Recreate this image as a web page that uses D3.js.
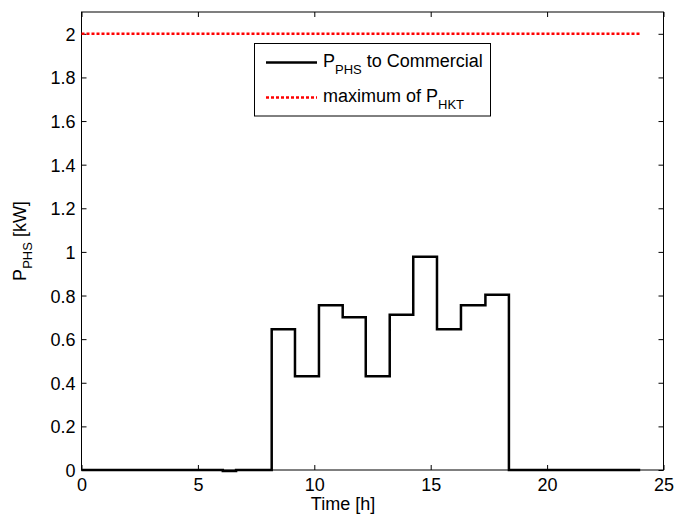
<!DOCTYPE html>
<html>
<head>
<meta charset="utf-8">
<script src="https://cdn.jsdelivr.net/npm/d3@7"></script>
<style>
  html, body { margin: 0; padding: 0; background: #fff; }
  svg { display: block; }
  text { font-family: "Liberation Sans", Arial, Helvetica, sans-serif; fill: #000; }
</style>
</head>
<body>
<svg id="chart" width="690" height="517"></svg>
<script>
// Step profile: start times (h) of each interval and the power held over it (kW)
const stepTimes  = [0, 6.07, 6.64, 8.17, 9.17, 10.20, 11.22, 12.21, 13.24, 14.25, 15.27, 16.30, 17.35, 18.36, 24];
const stepPower  = [0, -0.005, 0, 0.645, 0.430, 0.755, 0.700, 0.430, 0.712, 0.978, 0.645, 0.755, 0.804, 0, 0];
// Rated maximum of the turbine
const maxTimes = [0, 24];
const maxPower = [2, 2];

const xTicks = [0, 5, 10, 15, 20, 25];
const yTicks = [0, 0.2, 0.4, 0.6, 0.8, 1, 1.2, 1.4, 1.6, 1.8, 2];

const svg = d3.select("#chart");
const L = 81.5, R = 663.5, T = 12, B = 470;
const x = d3.scaleLinear().domain([0, 25]).range([L, R]);
const y = d3.scaleLinear().domain([0, 2.1]).range([B, T]);
const fs = 18;

// Inward ticks on all four sides
const tickLen = 5;
const axB = d3.axisBottom(x).tickValues(xTicks).tickSizeInner(-tickLen).tickSizeOuter(0).tickPadding(10)
  .tickFormat(d3.format("d"));
const axT = d3.axisTop(x).tickValues(xTicks).tickSizeInner(-tickLen).tickSizeOuter(0).tickFormat("");
const axL = d3.axisLeft(y).tickValues(yTicks).tickSizeInner(-tickLen).tickSizeOuter(0).tickPadding(10)
  .tickFormat(d => d === 0 || d === 1 || d === 2 ? String(d) : d3.format(".1f")(d));
const axR = d3.axisRight(y).tickValues(yTicks).tickSizeInner(-tickLen).tickSizeOuter(0).tickFormat("");

function styleAxis(g) {
  g.select(".domain").remove();
  g.selectAll(".tick line").attr("stroke", "#000").attr("stroke-width", 1);
  g.selectAll(".tick text").attr("font-size", fs).attr("font-family", "Liberation Sans, Arial, sans-serif").attr("fill", "#000");
}
svg.append("g").attr("transform", `translate(0,${B})`).call(axB).call(styleAxis)
  .selectAll(".tick text").attr("dy", null).attr("y", 21);
svg.append("g").attr("transform", `translate(0,${T})`).call(axT).call(styleAxis);
svg.append("g").attr("transform", `translate(${L},0)`).call(axL).call(styleAxis)
  .selectAll(".tick text").attr("x", -6).attr("dy", "0.36em");
svg.append("g").attr("transform", `translate(${R},0)`).call(axR).call(styleAxis);

// Plot box
svg.append("rect").attr("x", L).attr("y", T).attr("width", R - L).attr("height", B - T)
  .attr("fill", "none").attr("stroke", "#000").attr("stroke-width", 1);

// Maximum line (red dotted)
const maxData = maxTimes.map((t, i) => [t, maxPower[i]]);
svg.append("path").datum(maxData)
  .attr("d", d3.line().x(d => x(d[0])).y(d => y(d[1])))
  .attr("fill", "none").attr("stroke", "#ff0000").attr("stroke-width", 2.5)
  .attr("stroke-dasharray", "3,2");

// Power profile (stairs)
const stepData = stepTimes.map((t, i) => [t, stepPower[i]]);
svg.append("path").datum(stepData)
  .attr("d", d3.line().curve(d3.curveStepAfter).x(d => x(d[0])).y(d => y(d[1])))
  .attr("fill", "none").attr("stroke", "#000").attr("stroke-width", 2.5)
  .attr("stroke-linejoin", "miter");

// Axis labels
svg.append("text").attr("x", 343).attr("y", 510).attr("text-anchor", "middle")
  .attr("font-size", fs).text("Time [h]");

const yl = svg.append("text").attr("transform", "translate(26,241) rotate(-90)")
  .attr("text-anchor", "middle").attr("font-size", fs);
yl.append("tspan").text("P");
yl.append("tspan").attr("font-size", 13).attr("dy", 6).text("PHS");
yl.append("tspan").attr("dy", -6).text(" [kW]");

// Legend
const lg = svg.append("g");
lg.append("rect").attr("x", 254.5).attr("y", 43.5).attr("width", 236).attr("height", 72.5)
  .attr("fill", "#fff").attr("stroke", "#000").attr("stroke-width", 1);
lg.append("line").attr("x1", 266).attr("x2", 317).attr("y1", 62.5).attr("y2", 62.5)
  .attr("stroke", "#000").attr("stroke-width", 2.5);
lg.append("line").attr("x1", 266).attr("x2", 317).attr("y1", 97.5).attr("y2", 97.5)
  .attr("stroke", "#ff0000").attr("stroke-width", 2.5).attr("stroke-dasharray", "3,2");
const t1 = lg.append("text").attr("x", 323).attr("y", 67).attr("font-size", fs);
t1.append("tspan").text("P");
t1.append("tspan").attr("font-size", 13).attr("dy", 7).text("PHS");
t1.append("tspan").attr("dy", -7).text(" to Commercial");
const t2 = lg.append("text").attr("x", 323).attr("y", 102).attr("font-size", fs);
t2.append("tspan").text("maximum of P");
t2.append("tspan").attr("font-size", 13).attr("dy", 7).text("HKT");
</script>
</body>
</html>
